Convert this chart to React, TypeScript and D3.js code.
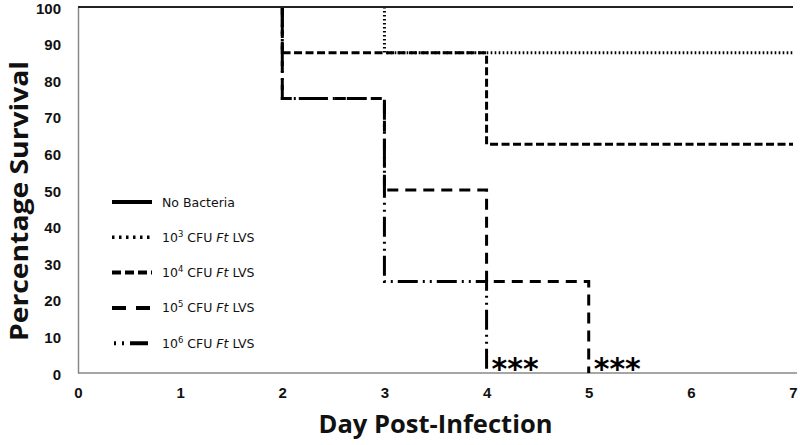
import React, { useRef, useEffect } from 'react';
import * as d3 from 'd3';

// survival (%) per day, null = no animals left
const days = [0, 1, 2, 3, 4, 5, 6, 7];
const noBacteria = [100, 100, 100, 100, 100, 100, 100, 100];
const cfu3 = [100, 100, 100, 87.5, 87.5, 87.5, 87.5, 87.5];
const cfu4 = [100, 100, 87.5, 87.5, 62.5, 62.5, 62.5, 62.5];
const cfu5 = [100, 100, 75, 50, 25, 0, null, null];
const cfu6 = [100, 100, 75, 25, 0, null, null, null];

const seriesLabels = ['No Bacteria', '3', '4', '5', '6'];
const yTicks = [0, 10, 20, 30, 40, 50, 60, 70, 80, 90, 100];
const xTicks = [0, 1, 2, 3, 4, 5, 6, 7];
const starDays = [4, 5];

const App = () => {
    const chartRef = useRef(null);

    useEffect(() => {
        const W = 800, H = 445;
        const margin = { top: 7, right: 6, bottom: 72, left: 78 };

        d3.select(chartRef.current).selectAll('*').remove();
        const svg = d3.select(chartRef.current)
            .attr('width', W)
            .attr('height', H);

        const x = d3.scaleLinear().domain([0, 7]).range([margin.left, W - margin.right - 1]);
        const y = d3.scaleLinear().domain([0, 100]).range([H - margin.bottom, margin.top]);

        // axes, no tick marks
        const xAxis = svg.append('g')
            .attr('transform', `translate(0,${y(0)})`)
            .call(d3.axisBottom(x).tickValues(xTicks).tickSize(0).tickPadding(14).tickFormat(d3.format('d')));
        xAxis.select('.domain').attr('stroke', '#888').attr('stroke-width', 1.5)
            .attr('d', `M${x(0)},0H${W - 3}`);
        xAxis.selectAll('text')
            .attr('font-family', 'Liberation Sans, Arial, sans-serif')
            .attr('font-weight', 'bold').attr('font-size', 15).attr('fill', '#111');

        const yAxis = svg.append('g')
            .attr('transform', `translate(${x(0)},0)`)
            .call(d3.axisLeft(y).tickValues(yTicks).tickSize(0).tickPadding(17));
        yAxis.select('.domain').attr('stroke', '#888').attr('stroke-width', 1.5);
        yAxis.selectAll('text')
            .attr('font-family', 'Liberation Sans, Arial, sans-serif')
            .attr('font-weight', 'bold').attr('font-size', 15).attr('fill', '#111')
            .attr('dy', '0.4em');

        // series styles
        const styles = [
            { data: noBacteria, width: 2, color: '#222', dash: null, legendDash: null, legendWidth: 4 },
            { data: cfu3, width: 3, color: '#000', dash: '1.6 2.4', legendDash: '2.5 4.5', legendWidth: 3.5 },
            { data: cfu4, width: 3, color: '#000', dash: '8 3.5', legendDash: '9 4', legendWidth: 4 },
            { data: cfu5, width: 3, color: '#000', dash: '11 7', legendDash: '14 10', legendWidth: 4 },
            { data: cfu6, width: 3, color: '#000', dash: '20 5 2 5 2 5', legendDash: '0 2 2 6 2 6 18 40', legendWidth: 4 },
        ];

        const line = d3.line<[number, number]>()
            .x(d => x(d[0]))
            .y(d => y(d[1]))
            .curve(d3.curveStepAfter);

        styles.slice().reverse().forEach(s => {
            // pairs of (day, value), stopping when no animals are left
            let pts = days.map((d, i) => [d, s.data[i]] as [number, number]).filter(p => p[1] != null);
            // the dashed series start where they leave 100 (before that they sit under the control line)
            if (s.data !== noBacteria) {
                const first = pts.findIndex(p => p[1] < 100);
                pts = [[pts[first][0], 100] as [number, number], ...pts.slice(first)];
            }
            svg.append('path')
                .attr('d', line(pts))
                .attr('fill', 'none')
                .attr('stroke', s.color)
                .attr('stroke-width', s.width)
                .attr('stroke-dasharray', s.dash);
        });

        // *** markers
        svg.selectAll('.stars')
            .data(starDays)
            .enter().append('text')
            .attr('x', d => x(d) + 5)
            .attr('y', y(0) + 6)
            .attr('font-family', 'DejaVu Sans, sans-serif')
            .attr('font-weight', 'bold')
            .attr('font-size', 30)
            .attr('fill', '#000')
            .text('***');

        // legend
        const lx0 = 112, lx1 = 152, ly0 = 202, lstep = 35.3;
        styles.forEach((s, i) => {
            const ly = ly0 + i * lstep;
            svg.append('line')
                .attr('x1', lx0).attr('x2', lx1)
                .attr('y1', ly).attr('y2', ly)
                .attr('stroke', '#000')
                .attr('stroke-width', s.legendWidth)
                .attr('stroke-dasharray', s.legendDash);
            const t = svg.append('text')
                .attr('x', lx1 + 10).attr('y', ly + 4.5)
                .attr('font-family', 'DejaVu Sans, sans-serif')
                .attr('font-size', 12.5)
                .attr('fill', '#111');
            if (i === 0) {
                t.text(seriesLabels[i]);
            } else {
                t.append('tspan').text('10');
                t.append('tspan').attr('dy', -5).attr('font-size', 8.5).text(seriesLabels[i]);
                t.append('tspan').attr('dy', 5).text(' CFU ');
                t.append('tspan').attr('font-style', 'italic').text('Ft');
                t.append('tspan').text(' LVS');
            }
        });

        // axis titles
        svg.append('text')
            .attr('x', (x(0) + x(7)) / 2)
            .attr('y', 433)
            .attr('text-anchor', 'middle')
            .attr('font-family', 'Open Sans, sans-serif')
            .attr('font-weight', 'bold')
            .attr('font-size', 25)
            .attr('textLength', 234)
            .attr('lengthAdjust', 'spacingAndGlyphs')
            .attr('fill', '#111')
            .text('Day Post-Infection');

        svg.append('text')
            .attr('transform', 'translate(28,201) rotate(-90)')
            .attr('text-anchor', 'middle')
            .attr('font-family', 'Open Sans, sans-serif')
            .attr('font-weight', 'bold')
            .attr('font-size', 25)
            .attr('textLength', 280)
            .attr('lengthAdjust', 'spacingAndGlyphs')
            .attr('fill', '#111')
            .text('Percentage Survival');
    }, []);

    return (
        <svg ref={chartRef} style={{ position: 'absolute', left: 0, top: 0, background: '#fff' }}></svg>
    );
};

export default App;
